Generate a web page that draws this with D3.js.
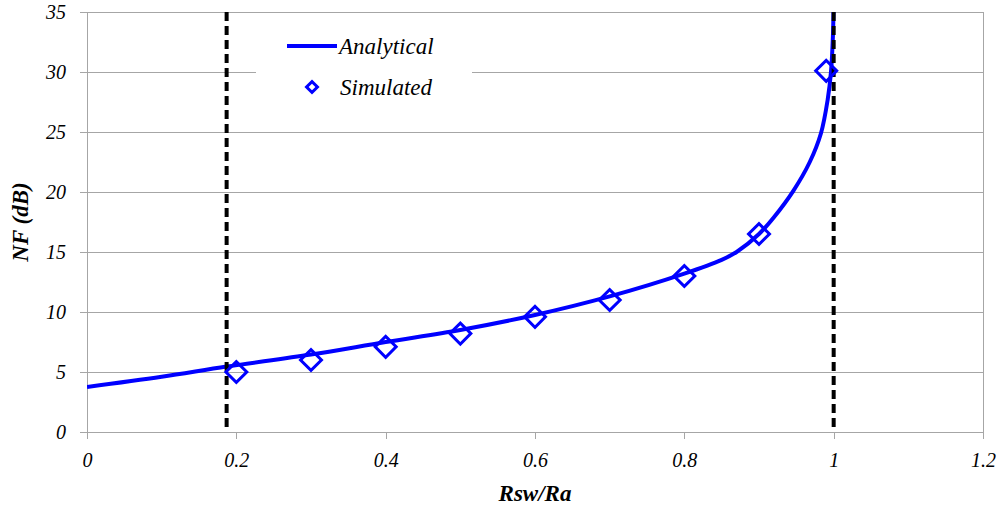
<!DOCTYPE html>
<html>
<head>
<meta charset="utf-8">
<script src="https://cdn.jsdelivr.net/npm/d3@7"></script>
<style>
  body { margin: 0; background: #fff; }
  text { font-family: "Liberation Serif", "Times New Roman", serif; font-style: italic; fill: #000; }
</style>
</head>
<body>
<div id="chart"></div>
<script>
// analytical curve
var curveX = [0, 0.1, 0.187, 0.3, 0.4, 0.5, 0.6, 0.7, 0.8, 0.85, 0.87, 0.9, 0.92, 0.946, 0.968, 0.983, 0.992, 0.9964, 0.999, 1.0];
var curveY = [3.75, 4.6, 5.45, 6.45, 7.5, 8.5, 9.75, 11.3, 13.2, 14.35, 15.0, 16.5, 17.9, 20.1, 22.5, 24.9, 27.7, 30.0, 33.0, 36];

// simulated points
var simX = [0.2, 0.3, 0.4, 0.5, 0.6, 0.7, 0.8, 0.9, 0.99];
var simY = [5.0, 6.0, 7.1, 8.2, 9.6, 11.0, 13.0, 16.5, 30.1];

// dashed limits
var limits = [0.187, 1.0];

var xTicks = [0, 0.2, 0.4, 0.6, 0.8, 1, 1.2];
var yTicks = [0, 5, 10, 15, 20, 25, 30, 35];

var width = 1002, height = 511;
var margin = {top: 12, right: 19, bottom: 79, left: 87};
var w = width - margin.left - margin.right;
var h = height - margin.top - margin.bottom;

var svg = d3.select("#chart").append("svg")
    .attr("width", width)
    .attr("height", height);

var g = svg.append("g")
    .attr("transform", "translate(" + margin.left + "," + margin.top + ")");

var xScale = d3.scaleLinear().domain([0, 1.2]).range([0, w]);
var yScale = d3.scaleLinear().domain([0, 35]).range([h, 0]);

var gridColor = "#a6a6a6";

// horizontal gridlines
g.selectAll(".grid").data(yTicks).enter().append("line")
    .attr("x1", 0).attr("x2", w)
    .attr("y1", d => yScale(d)).attr("y2", d => yScale(d))
    .attr("stroke", gridColor).attr("stroke-width", 1)
    .attr("shape-rendering", "crispEdges");

// right border
g.append("line")
    .attr("x1", w).attr("x2", w).attr("y1", 0).attr("y2", h)
    .attr("stroke", gridColor).attr("shape-rendering", "crispEdges");

// axes
var yAxis = d3.axisLeft(yScale).tickValues(yTicks).tickSize(7).tickPadding(14).tickFormat(d3.format("d"));
var xAxis = d3.axisBottom(xScale).tickValues(xTicks).tickSize(7).tickPadding(14)
    .tickFormat(d => d === 0 || d === 1 ? d3.format("d")(d) : d3.format(".1f")(d));

var ya = g.append("g").call(yAxis);
var xa = g.append("g").attr("transform", "translate(0," + h + ")").call(xAxis);

[ya, xa].forEach(function(a) {
    a.attr("font-family", null).attr("font-size", 20);
    a.select(".domain").attr("stroke", gridColor).attr("shape-rendering", "crispEdges");
    a.selectAll(".tick line").attr("stroke", gridColor).attr("shape-rendering", "crispEdges");
    a.selectAll(".tick text").attr("fill", "#000");
});
ya.selectAll(".tick text").attr("x", -21);
xa.selectAll(".tick text").attr("dy", "0.71em").attr("y", 21);

// clip to plot area
g.append("clipPath").attr("id", "clip")
  .append("rect").attr("x", 0).attr("y", 0).attr("width", w).attr("height", h);

// legend background (hides gridline behind it)
g.append("rect")
    .attr("x", 256 - margin.left).attr("y", 24 - margin.top)
    .attr("width", 216).attr("height", 86)
    .attr("fill", "#fff");

// analytical curve
var curveData = curveX.map((x, i) => ({x: x, y: curveY[i]}));
var line = d3.line()
    .x(d => xScale(d.x))
    .y(d => yScale(d.y))
    .curve(d3.curveCatmullRom.alpha(0.5));

g.append("path")
    .datum(curveData)
    .attr("clip-path", "url(#clip)")
    .attr("d", line)
    .attr("fill", "none")
    .attr("stroke", "#0000ff")
    .attr("stroke-width", 4);

// dashed vertical lines
g.selectAll(".limit").data(limits).enter().append("line")
    .attr("x1", d => xScale(d)).attr("x2", d => xScale(d))
    .attr("y1", 0).attr("y2", h)
    .attr("stroke", "#000")
    .attr("stroke-width", 4)
    .attr("stroke-dasharray", "9,5");

// simulated diamonds
var simData = simX.map((x, i) => ({x: x, y: simY[i]}));
var diamond = d3.symbol().type(d3.symbolSquare).size(220);
g.selectAll(".sim").data(simData).enter().append("path")
    .attr("d", diamond)
    .attr("transform", d => "translate(" + xScale(d.x) + "," + yScale(d.y) + ") rotate(45)")
    .attr("fill", "none")
    .attr("stroke", "#0000ff")
    .attr("stroke-width", 3);

// legend
var lg = svg.append("g");
lg.append("line")
    .attr("x1", 287).attr("x2", 337).attr("y1", 46).attr("y2", 46)
    .attr("stroke", "#0000ff").attr("stroke-width", 4);
lg.append("text").attr("x", 339).attr("y", 54)
    .style("font-size", "23px").text("Analytical");
lg.append("path")
    .attr("d", d3.symbol().type(d3.symbolSquare).size(60))
    .attr("transform", "translate(312,87) rotate(45)")
    .attr("fill", "none").attr("stroke", "#0000ff").attr("stroke-width", 3);
lg.append("text").attr("x", 340).attr("y", 95)
    .style("font-size", "23px").text("Simulated");

// axis titles
svg.append("text")
    .attr("x", margin.left + w / 2).attr("y", 501)
    .attr("text-anchor", "middle")
    .style("font-size", "23px").style("font-weight", "bold")
    .text("Rsw/Ra");

svg.append("text")
    .attr("transform", "translate(28," + (margin.top + h / 2) + ") rotate(-90)")
    .attr("text-anchor", "middle")
    .style("font-size", "23px").style("font-weight", "bold")
    .text("NF (dB)");
</script>
</body>
</html>
